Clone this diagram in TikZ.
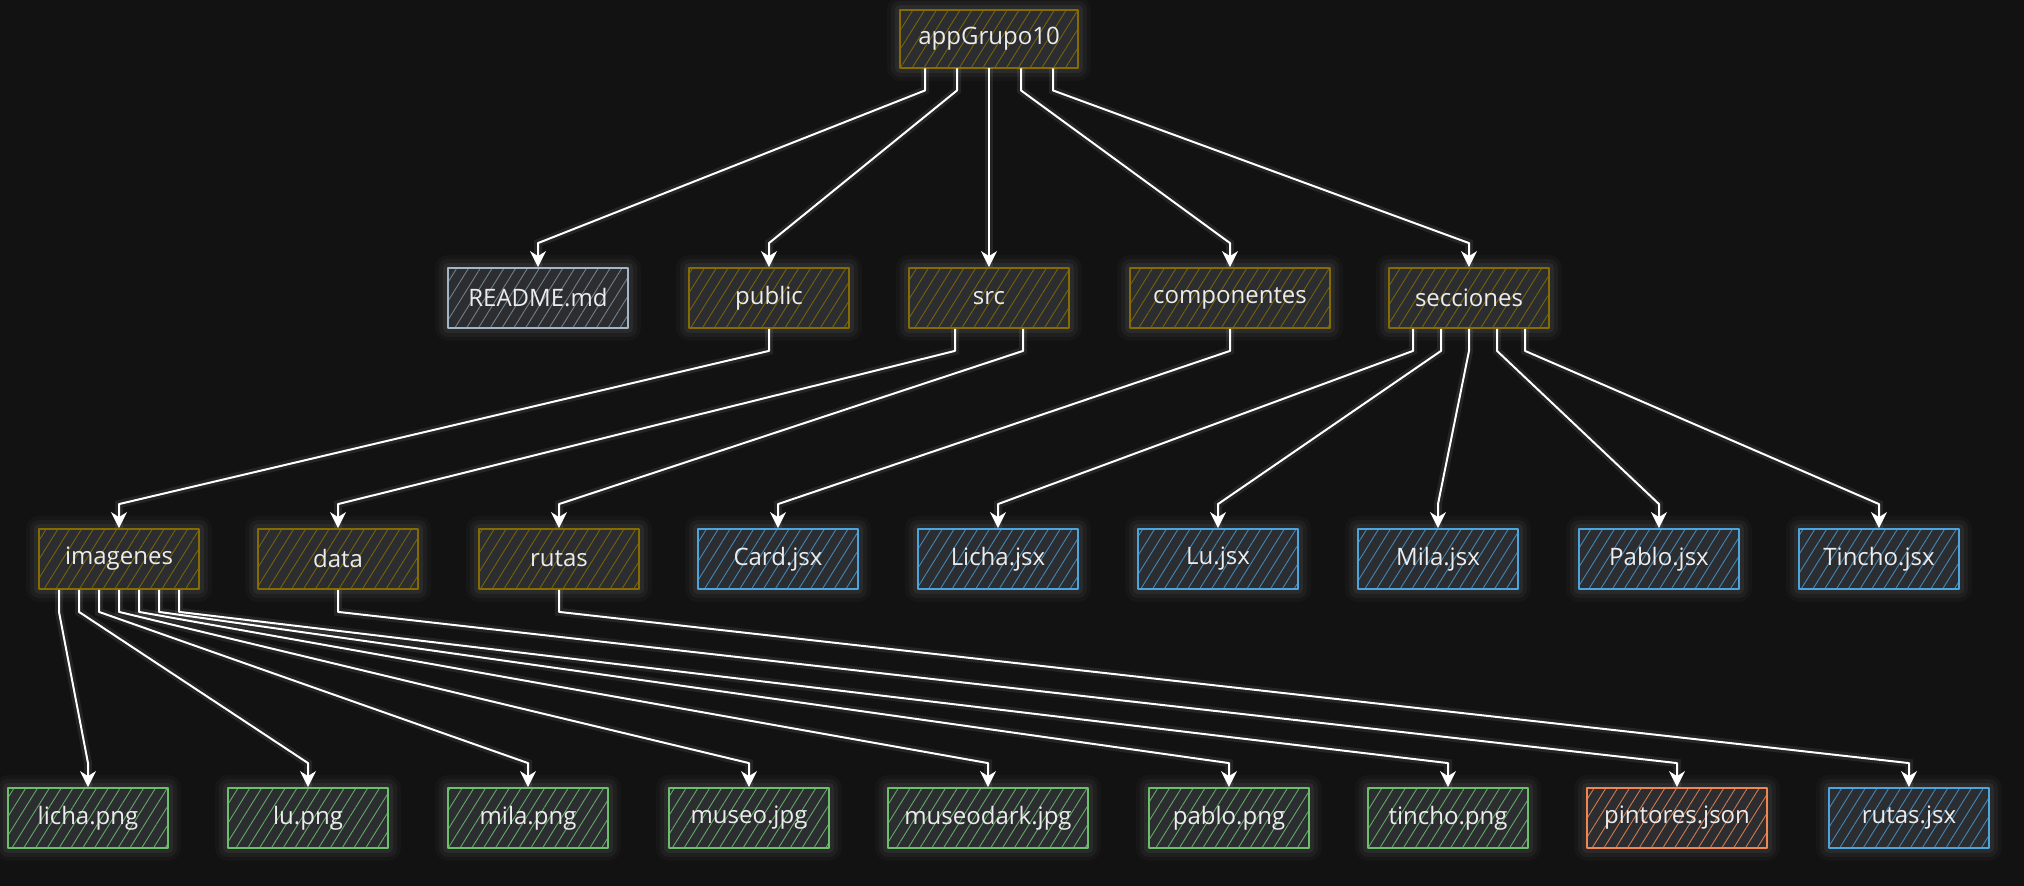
\documentclass[tikz,border=0pt]{standalone}
\usepackage{fontspec}
\setmainfont{Open Sans}
\usetikzlibrary{arrows.meta,patterns.meta}
\definecolor{bg}{HTML}{121212}
\definecolor{boxbg}{HTML}{2C2D31}
\definecolor{txt}{HTML}{ECECEC}
\definecolor{fold}{HTML}{846C00}
\definecolor{doc}{HTML}{A3B6C6}
\definecolor{jsx}{HTML}{4BA6E0}
\definecolor{img}{HTML}{6CC06C}
\definecolor{json}{HTML}{F08650}
\begin{document}
\begin{tikzpicture}[x=0.5pt, y=-0.5pt, >={Stealth[length=8pt,width=8pt,inset=2.5pt]}]
    \tikzstyle{box}=[rectangle,line width=0.9pt,minimum width=80pt,minimum height=30pt,text=txt,
      font=\fontsize{12}{14}\selectfont,line join=round,
      preaction={draw=white,draw opacity=0.025,line width=13pt},
      preaction={draw=white,draw opacity=0.035,line width=9pt},
      preaction={draw=white,draw opacity=0.05,line width=5pt},
      preaction={fill=boxbg},
      pattern={Lines[angle=58,distance=5pt,line width=0.45pt]}]
    \tikzstyle{folder}=[box,draw=fold,pattern color=fold!85!boxbg]
    \tikzstyle{docfile}=[box,draw=doc,pattern color=doc!60!boxbg]
    \tikzstyle{jsxfile}=[box,draw=jsx,pattern color=jsx!75!boxbg]
    \tikzstyle{imgfile}=[box,draw=img,pattern color=img!85!boxbg]
    \tikzstyle{jsonfile}=[box,draw=json,pattern color=json!85!boxbg]
    \tikzstyle{link}=[->,draw=white,line width=1pt,line join=round,
      preaction={draw=white,draw opacity=0.08,line width=4pt,-},
      to path={-- ++(0pt,-11pt) -- ([yshift=12pt]\tikztotarget.north) -- (\tikztotarget.north)}]
    \fill[bg] (0,0) rectangle (2024,886);
    \useasboundingbox (0,0) rectangle (2024,886);
    \node[folder,minimum width=89pt,minimum height=29pt] (app) at (989,39) {appGrupo10};
    \node[docfile,minimum width=90pt] (readme) at (538,298) {README.md};
    \node[folder] (public) at (769,298) {public};
    \node[folder] (src) at (989,298) {src};
    \node[folder,minimum width=100pt] (componentes) at (1230,298) {componentes};
    \node[folder] (secciones) at (1469,298) {secciones};
    \node[folder] (imagenes) at (119,559) {imagenes};
    \node[folder] (data) at (338,559) {data};
    \node[folder] (rutas) at (559,559) {rutas};
    \node[jsxfile] (cardjsx) at (778,559) {Card.jsx};
    \node[jsxfile] (lichajsx) at (998,559) {Licha.jsx};
    \node[jsxfile] (lujsx) at (1218,559) {Lu.jsx};
    \node[jsxfile] (milajsx) at (1438,559) {Mila.jsx};
    \node[jsxfile] (pablojsx) at (1659,559) {Pablo.jsx};
    \node[jsxfile] (tinchojsx) at (1879,559) {Tincho.jsx};
    \node[imgfile] (lichapng) at (88,818) {licha.png};
    \node[imgfile] (lupng) at (308,818) {lu.png};
    \node[imgfile] (milapng) at (528,818) {mila.png};
    \node[imgfile] (museojpg) at (749,818) {museo.jpg};
    \node[imgfile,minimum width=100pt] (museodarkjpg) at (988,818) {museodark.jpg};
    \node[imgfile] (pablopng) at (1229,818) {pablo.png};
    \node[imgfile] (tinchopng) at (1448,818) {tincho.png};
    \node[jsonfile,minimum width=90pt] (pintoresjson) at (1677,818) {pintores.json};
    \node[jsxfile] (rutasjsx) at (1909,818) {rutas.jsx};
    \draw[link] ([xshift=-32pt]app.south) to (readme);
    \draw[link] ([xshift=-16pt]app.south) to (public);
    \draw[link] (app.south) to (src);
    \draw[link] ([xshift=16pt]app.south) to (componentes);
    \draw[link] ([xshift=32pt]app.south) to (secciones);
    \draw[link] (public.south) to (imagenes);
    \draw[link] ([xshift=-17pt]src.south) to (data);
    \draw[link] ([xshift=17pt]src.south) to (rutas);
    \draw[link] (componentes.south) to (cardjsx);
    \draw[link] ([xshift=-28pt]secciones.south) to (lichajsx);
    \draw[link] ([xshift=-14pt]secciones.south) to (lujsx);
    \draw[link] (secciones.south) to (milajsx);
    \draw[link] ([xshift=14pt]secciones.south) to (pablojsx);
    \draw[link] ([xshift=28pt]secciones.south) to (tinchojsx);
    \draw[link] ([xshift=-30pt]imagenes.south) to (lichapng);
    \draw[link] ([xshift=-20pt]imagenes.south) to (lupng);
    \draw[link] ([xshift=-10pt]imagenes.south) to (milapng);
    \draw[link] (imagenes.south) to (museojpg);
    \draw[link] ([xshift=10pt]imagenes.south) to (museodarkjpg);
    \draw[link] ([xshift=20pt]imagenes.south) to (pablopng);
    \draw[link] ([xshift=30pt]imagenes.south) to (tinchopng);
    \draw[link] (data.south) to (pintoresjson);
    \draw[link] (rutas.south) to (rutasjsx);
  \end{tikzpicture}
\end{document}
